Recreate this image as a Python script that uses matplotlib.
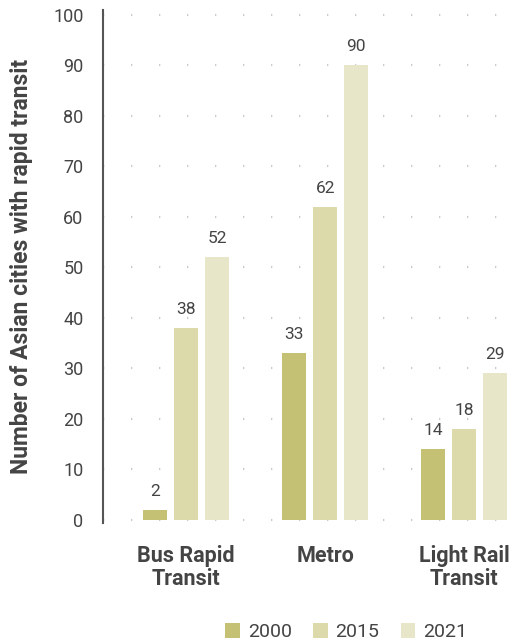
import numpy as np
import matplotlib.pyplot as plt

plt.rcParams["font.family"] = ["Roboto", "DejaVu Sans"]

categories = ["Bus Rapid\nTransit", "Metro", "Light Rail\nTransit"]
years = ["2000", "2015", "2021"]
values_2000 = [2, 33, 14]
values_2015 = [38, 62, 18]
values_2021 = [52, 90, 29]
colors = ["#c5c174", "#dcd9ab", "#e8e6c9"]

fig = plt.figure(figsize=(5.13, 6.42), dpi=100)
ax = fig.add_axes([0.2008, 0.1854, 0.7992, 0.7992])

x = np.arange(len(categories))
width = 0.173
step = 0.223
series = [values_2000, values_2015, values_2021]
for i, (vals, col, yr) in enumerate(zip(series, colors, years)):
    bars = ax.bar(x + (i - 1) * step, vals, width, color=col, label=yr, zorder=3)
    for b, v in zip(bars, vals):
        ax.text(b.get_x() + b.get_width() / 2, v + 2.2, str(v), ha="center",
                va="bottom", fontsize=12.5, color="#444444")

ax.set_xlim(-0.597, 2.35)
ax.set_ylim(-0.6, 101)
ax.set_yticks(range(0, 101, 10))
ax.tick_params(axis="y", length=0, pad=14, labelsize=13, labelcolor="#444444")
ax.set_xticks(x)
ax.set_xticklabels(categories, fontsize=15.5, fontweight="bold", color="#444444",
                   linespacing=1.05)
ax.tick_params(axis="x", length=0, pad=16)

ax.grid(axis="y", color="#cccccc", linestyle=(0, (0.6, 12)), linewidth=1.6, zorder=0)
for s in ["top", "right", "bottom"]:
    ax.spines[s].set_visible(False)
ax.spines["left"].set_color("#555555")
ax.spines["left"].set_linewidth(1.5)

ax.set_ylabel("Number of Asian cities with rapid transit", fontsize=16.5,
              fontweight="bold", color="#444444")
ax.yaxis.set_label_coords(-0.17, 0.5)

leg = fig.legend(loc="lower center", bbox_to_anchor=(0.675, -0.026), ncol=3,
                 frameon=False, fontsize=14, handlelength=0.75, handleheight=0.75,
                 columnspacing=1.1, handletextpad=0.4)
for t in leg.get_texts():
    t.set_color("#444444")

fig.savefig("out.png", dpi=100)
